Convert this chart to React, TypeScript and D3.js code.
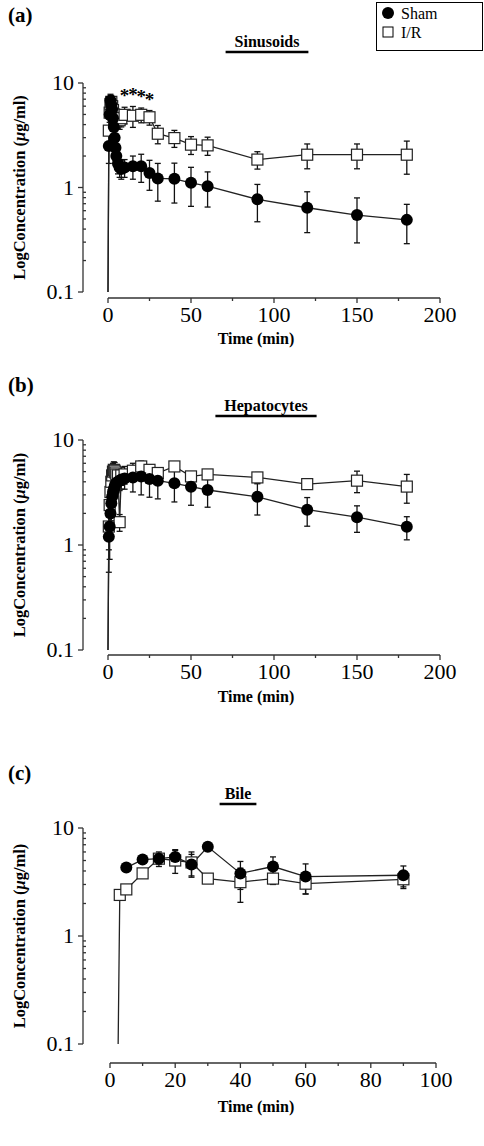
import React from "react";
import * as d3 from "d3";

// ---------- DATA ----------
const sinTime = [0, 0.5, 1, 1.5, 2, 2.5, 3, 3.5, 4, 4.5, 5, 6, 7, 8, 10, 15, 20, 25, 30, 40, 50, 60, 90, 120, 150, 180];
const sinSham = [0.1, 2.5, 5.0, 6.8, 6.2, 5.6, 4.6, 3.8, 3.0, 2.4, 2.0, 1.7, 1.55, 1.5, 1.55, 1.6, 1.6, 1.38, 1.22, 1.21, 1.11, 1.03, 0.77, 0.64, 0.545, 0.49];
const sinShamSD = [0, 0.8, 1.2, 1.0, 1.0, 0.9, 0.8, 0.7, 0.6, 0.5, 0.4, 0.35, 0.3, 0.3, 0.3, 0.4, 0.48, 0.44, 0.48, 0.5, 0.45, 0.38, 0.3, 0.27, 0.25, 0.2];
const sinIR = [0.1, 3.5, 5.2, 6.3, 6.6, 6.0, 5.5, 5.0, 4.6, 4.3, 4.4, 4.5, 4.4, 4.6, 4.96, 4.86, 4.96, 4.7, 3.27, 2.97, 2.57, 2.53, 1.85, 2.06, 2.06, 2.06];
const sinIRSD = [0, 1.0, 1.0, 1.0, 1.0, 1.0, 1.0, 0.9, 0.9, 0.8, 0.8, 0.8, 0.8, 0.8, 0.9, 1.1, 0.8, 0.75, 0.65, 0.55, 0.5, 0.5, 0.35, 0.55, 0.55, 0.72];
const sinSigTimes = [10, 15, 20, 25];

const hepTime = sinTime;
const hepSham = [0.1, 1.2, 1.5, 2.0, 2.5, 2.9, 3.2, 3.4, 3.6, 3.8, 3.9, 4.0, 4.1, 4.2, 4.3, 4.4, 4.5, 4.25, 4.1, 3.87, 3.59, 3.34, 2.88, 2.17, 1.84, 1.49];
const hepShamSD = [0, 0.65, 0.77, 0.8, 0.8, 0.8, 0.8, 0.8, 0.8, 0.8, 0.8, 0.8, 0.8, 0.8, 0.9, 1.2, 1.5, 1.4, 1.35, 1.3, 1.2, 1.05, 0.95, 0.66, 0.52, 0.37];
const hepIR = [0.1, 1.5, 2.4, 3.2, 4.0, 4.6, 5.0, 5.2, 5.1, 4.9, 4.7, 4.6, 1.65, 4.6, 4.7, 5.1, 5.6, 5.2, 4.85, 5.6, 4.5, 4.7, 4.4, 3.8, 4.1, 3.6];
const hepIRSD = [0, 0.6, 0.8, 0.9, 1.0, 1.0, 1.0, 1.0, 1.0, 0.9, 0.9, 0.9, 0.3, 0.9, 0.9, 0.9, 0.7, 0.6, 0.5, 0.5, 0.4, 0.5, 0.5, 0.32, 0.95, 1.1];

const bileShamTime = [5, 10, 15, 20, 25, 30, 40, 50, 60, 90];
const bileSham = [4.3, 5.1, 5.2, 5.4, 4.6, 6.7, 3.8, 4.4, 3.55, 3.65];
const bileShamSD = [0.2, 0.3, 0.8, 0.9, 1.1, 0.3, 1.1, 1.0, 1.1, 0.8];
const bileIRTime = [2.5, 3, 5, 10, 15, 20, 25, 30, 40, 50, 60, 90];
const bileIR = [0.1, 2.4, 2.7, 3.8, 5.2, 5.0, 4.8, 3.4, 3.15, 3.4, 3.05, 3.35];
const bileIRSD = [0, 0.2, 0.2, 0.3, 0.6, 1.2, 1.2, 0.3, 1.1, 0.4, 0.6, 0.6];

const yTickLabels = ["0.1", "1", "10"];
const yTickValues = [0.1, 1, 10];
const sinHepXTicks = [0, 50, 100, 150, 200];
const bileXTicks = [0, 20, 40, 60, 80, 100];

const FONT = "'Liberation Serif', 'Times New Roman', serif";

type Series = { t: number[]; v: number[]; sd: number[] };

type PanelProps = {
  label: string;
  labelY: number;
  title: string;
  titleX: number;
  titleY: number;
  top: number; // y of "10"
  decade: number;
  axisY: number;
  xTitleY: number;
  x0: number;
  x1: number;
  xMax: number;
  xTicks: number[];
  sham: Series;
  ir: Series;
  sig?: number[];
};

function Panel(p: PanelProps) {
  const yAxisX = 83;
  const y = d3.scaleLog().domain([0.1, 10]).range([p.top + 2 * p.decade, p.top]);
  const x = d3.scaleLinear().domain([0, p.xMax]).range([p.x0, p.x1]);
  const line = d3
    .line<[number, number]>()
    .x((d) => x(d[0]))
    .y((d) => y(Math.max(0.1, d[1])));

  const minor: number[] = [];
  [0.1, 1].forEach((b) => {
    for (let k = 2; k <= 9; k++) minor.push(b * k);
  });
  const xStep = p.xTicks[1] - p.xTicks[0];
  const xMinor = p.xTicks.slice(0, -1).map((t) => t + xStep / 2);

  const errBars = (s: Series, key: string) =>
    s.t.map((t, i) => {
      if (!s.sd[i]) return null;
      const hi = y(s.v[i] + s.sd[i]);
      const lo = y(Math.max(0.1, s.v[i] - s.sd[i]));
      const cx = x(t);
      return (
        <g key={key + i} stroke="#111" strokeWidth={1.3}>
          <line x1={cx} x2={cx} y1={hi} y2={lo} />
          <line x1={cx - 3} x2={cx + 3} y1={hi} y2={hi} />
          <line x1={cx - 3} x2={cx + 3} y1={lo} y2={lo} />
        </g>
      );
    });

  const pts = (s: Series): [number, number][] => s.t.map((t, i) => [t, s.v[i]]);
  const tw = p.title.length * 4.6;

  return (
    <g>
      <text x={8} y={p.labelY} fontFamily={FONT} fontWeight="bold" fontSize={21}>
        {p.label}
      </text>
      <text x={p.titleX} y={p.titleY} fontFamily={FONT} fontWeight="bold" fontSize={16} textAnchor="middle">
        {p.title}
      </text>
      <line x1={p.titleX - tw} x2={p.titleX + tw} y1={p.titleY + 5} y2={p.titleY + 5} stroke="#000" strokeWidth={2.5} />
      {/* y axis */}
      <g stroke="#333" strokeWidth={1.3}>
        <line x1={yAxisX} x2={yAxisX} y1={y(0.1)} y2={y(10)} />
        {yTickValues.map((v) => (
          <line key={"yt" + v} x1={yAxisX - 5} x2={yAxisX} y1={y(v)} y2={y(v)} />
        ))}
        {minor.map((v) => (
          <line key={"ym" + v} x1={yAxisX} x2={yAxisX + 3} y1={y(v)} y2={y(v)} />
        ))}
      </g>
      {yTickValues.map((v, i) => (
        <text key={"yl" + v} x={yAxisX - 9} y={y(v) + 7} fontFamily={FONT} fontSize={22} textAnchor="end">
          {yTickLabels[i]}
        </text>
      ))}
      <text
        transform={`translate(${25},${p.top + p.decade}) rotate(-90)`}
        fontFamily={FONT}
        fontWeight="bold"
        fontSize={16.5}
        textAnchor="middle"
      >
        LogConcentration (<tspan fontStyle="italic">μ</tspan>g/ml)
      </text>
      {/* x axis */}
      <g stroke="#333" strokeWidth={1.3}>
        <line x1={x(0)} x2={x(p.xMax)} y1={p.axisY} y2={p.axisY} />
        {p.xTicks.map((t) => (
          <line key={"xt" + t} x1={x(t)} x2={x(t)} y1={p.axisY} y2={p.axisY + 5} />
        ))}
        {xMinor.map((t) => (
          <line key={"xm" + t} x1={x(t)} x2={x(t)} y1={p.axisY} y2={p.axisY + 3} />
        ))}
      </g>
      {p.xTicks.map((t) => (
        <text key={"xl" + t} x={x(t)} y={p.axisY + 24} fontFamily={FONT} fontSize={22} textAnchor="middle">
          {t}
        </text>
      ))}
      <text x={256} y={p.xTitleY} fontFamily={FONT} fontWeight="bold" fontSize={16} textAnchor="middle">
        Time (min)
      </text>
      {/* data */}
      {errBars(p.ir, "ei")}
      {errBars(p.sham, "es")}
      <path d={line(pts(p.ir)) || ""} fill="none" stroke="#222" strokeWidth={1.3} />
      <path d={line(pts(p.sham)) || ""} fill="none" stroke="#222" strokeWidth={1.3} />
      {p.ir.t.map((t, i) =>
        p.ir.v[i] > 0.1 ? (
          <rect key={"ri" + i} x={x(t) - 5.5} y={y(p.ir.v[i]) - 5.5} width={11} height={11} fill="#fff" stroke="#222" strokeWidth={1.2} />
        ) : null
      )}
      {p.sham.t.map((t, i) =>
        p.sham.v[i] > 0.1 ? <circle key={"cs" + i} cx={x(t)} cy={y(p.sham.v[i])} r={6} fill="#000" /> : null
      )}
      {(p.sig || []).map((t) => {
        const i = p.ir.t.indexOf(t);
        const yy = y(p.ir.v[i] + p.ir.sd[i]);
        return (
          <text key={"sig" + t} x={x(t)} y={yy - 5} fontFamily={FONT} fontSize={19} fontWeight="bold" textAnchor="middle">
            *
          </text>
        );
      })}
    </g>
  );
}

export default function App() {
  return (
    <svg width={484} height={1146} style={{ position: "absolute", left: 0, top: 0, display: "block" }}>
      <rect x={0} y={0} width={484} height={1146} fill="#fff" />
      <Panel
        label="(a)"
        labelY={22}
        title="Sinusoids"
        titleX={267}
        titleY={47}
        top={83}
        decade={104.5}
        axisY={298}
        xTitleY={344}
        x0={108}
        x1={440}
        xMax={200}
        xTicks={sinHepXTicks}
        sham={{ t: sinTime, v: sinSham, sd: sinShamSD }}
        ir={{ t: sinTime, v: sinIR, sd: sinIRSD }}
        sig={sinSigTimes}
      />
      <Panel
        label="(b)"
        labelY={392}
        title="Hepatocytes"
        titleX={266}
        titleY={411}
        top={440}
        decade={105}
        axisY={655}
        xTitleY={702}
        x0={108}
        x1={440}
        xMax={200}
        xTicks={sinHepXTicks}
        sham={{ t: hepTime, v: hepSham, sd: hepShamSD }}
        ir={{ t: hepTime, v: hepIR, sd: hepIRSD }}
      />
      <Panel
        label="(c)"
        labelY={780}
        title="Bile"
        titleX={238}
        titleY={799}
        top={828}
        decade={108}
        axisY={1063}
        xTitleY={1112}
        x0={110}
        x1={436}
        xMax={100}
        xTicks={bileXTicks}
        sham={{ t: bileShamTime, v: bileSham, sd: bileShamSD }}
        ir={{ t: bileIRTime, v: bileIR, sd: bileIRSD }}
      />
      {/* legend */}
      <rect x={376.5} y={2.5} width={106} height={48} fill="#fff" stroke="#000" strokeWidth={1} />
      <circle cx={388} cy={13} r={6} fill="#000" />
      <text x={401} y={18.5} fontFamily={FONT} fontSize={16}>
        Sham
      </text>
      <rect x={383} y={27} width={10} height={10} fill="#fff" stroke="#000" strokeWidth={1} />
      <text x={401} y={37.5} fontFamily={FONT} fontSize={16}>
        I/R
      </text>
    </svg>
  );
}
